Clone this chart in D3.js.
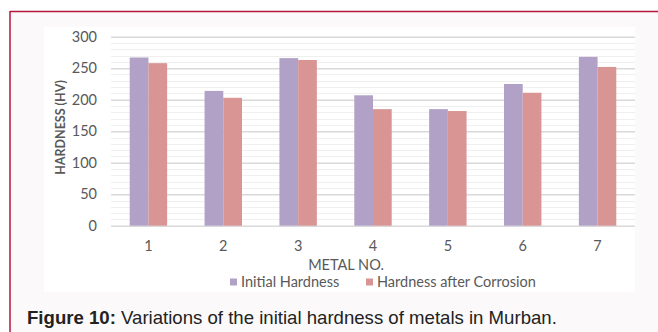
<!DOCTYPE html>
<html>
<head>
<meta charset="utf-8">
<script src="https://cdn.jsdelivr.net/npm/d3@7/dist/d3.min.js"></script>
<style>
  html, body { margin: 0; padding: 0; background: #ffffff; }
  svg { display: block; }
</style>
</head>
<body>
<script>
// Hardness of seven metals before and after corrosion
const metals = ["1", "2", "3", "4", "5", "6", "7"];
const initialHardness = [267, 214, 266, 207, 185, 225, 268];
const afterCorrosion = [258, 203, 263, 185, 182, 211, 252];
const seriesNames = ["Initial Hardness", "Hardness after Corrosion"];
const seriesColors = ["#b1a1c7", "#d99594"];
const yTicks = [0, 50, 100, 150, 200, 250, 300];

const W = 658, H = 332;
const uiFont = "Lato, 'Liberation Sans', sans-serif";
const textGray = "#595959";

const svg = d3.select("body").append("svg")
  .attr("width", W).attr("height", H);

// figure frame
svg.append("rect").attr("x", 0).attr("y", 0).attr("width", W).attr("height", H).attr("fill", "#ffffff");
svg.append("rect").attr("x", 10).attr("y", 11).attr("width", W).attr("height", H)
  .attr("fill", "#fbf9f9");
svg.append("line").attr("x1", 10).attr("x2", W).attr("y1", 11.5).attr("y2", 11.5)
  .attr("stroke", "#b3173c").attr("stroke-width", 1.5);
svg.append("line").attr("x1", 10).attr("x2", 10).attr("y1", 11).attr("y2", H)
  .attr("stroke", "#b3173c").attr("stroke-width", 1.5);

// chart area
svg.append("rect").attr("x", 44).attr("y", 27).attr("width", 591).attr("height", 265)
  .attr("fill", "#ffffff");

const plot = { left: 111, right: 635, top: 36.7, bottom: 225.7 };

const x = d3.scaleBand().domain(metals).range([plot.left, plot.right]).paddingInner(0.5).paddingOuter(0.25);
const xs = d3.scaleBand().domain(seriesNames).range([0, x.bandwidth()]);
const y = d3.scaleLinear().domain([0, 300]).range([plot.bottom, plot.top]);

// minor gridlines every 10
const minor = d3.range(0, 301, 10).filter(v => v % 50 !== 0);
svg.append("g").selectAll("line").data(minor).join("line")
  .attr("x1", plot.left).attr("x2", plot.right)
  .attr("y1", d => Math.round(y(d)) + 0.5).attr("y2", d => Math.round(y(d)) + 0.5)
  .attr("stroke", "#efefef").attr("stroke-width", 1);

// major gridlines and y tick labels via axis
const yAxis = d3.axisLeft(y).tickValues(yTicks).tickSize(-(plot.right - plot.left)).tickPadding(14);
const gy = svg.append("g").attr("transform", `translate(${plot.left},0)`).call(yAxis);
gy.select(".domain").remove();
gy.selectAll(".tick line").attr("stroke", "#d9d9d9").attr("stroke-width", 1.5);
gy.selectAll(".tick text").attr("fill", textGray).attr("font-family", uiFont).attr("font-size", 14.5);

// bars
const series = [initialHardness, afterCorrosion];
series.forEach((vals, si) => {
  svg.append("g").selectAll("rect").data(vals).join("rect")
    .attr("x", (d, i) => x(metals[i]) + xs(seriesNames[si]))
    .attr("width", xs.bandwidth())
    .attr("y", d => y(d))
    .attr("height", d => y(0) - y(d))
    .attr("fill", seriesColors[si]);
});

// x axis labels
const xAxis = d3.axisBottom(x).tickSize(0).tickPadding(15);
const gx = svg.append("g").attr("transform", `translate(0,${plot.bottom})`).call(xAxis);
gx.select(".domain").remove();
gx.selectAll(".tick text").attr("fill", textGray).attr("font-family", uiFont).attr("font-size", 14.5);

// axis titles
svg.append("text").attr("x", 346).attr("y", 270)
  .attr("text-anchor", "middle").attr("fill", textGray)
  .attr("font-family", uiFont).attr("font-size", 14.5).text("METAL NO.");
svg.append("text").attr("transform", "translate(64.5,127.5) rotate(-90)")
  .attr("text-anchor", "middle").attr("fill", textGray)
  .attr("font-family", uiFont).attr("font-size", 12.5).attr("font-weight", "bold")
  .text("HARDNESS (HV)");

// legend
const legendItems = [{ x: 230, name: seriesNames[0], c: seriesColors[0] },
                     { x: 366, name: seriesNames[1], c: seriesColors[1] }];
const lg = svg.append("g").selectAll("g").data(legendItems).join("g")
  .attr("transform", d => `translate(${d.x},0)`);
lg.append("rect").attr("x", 0).attr("y", 278.5).attr("width", 7).attr("height", 7).attr("fill", d => d.c);
lg.append("text").attr("x", 11).attr("y", 287)
  .attr("fill", textGray).attr("font-family", uiFont).attr("font-size", 14.5)
  .text(d => d.name);

// caption
const cap = svg.append("text").attr("x", 27).attr("y", 323.5)
  .attr("font-family", "Arial, 'Liberation Sans', sans-serif").attr("font-size", 18.6).attr("fill", "#222222");
cap.append("tspan").attr("font-weight", "bold").text("Figure 10:");
cap.append("tspan").text(" Variations of the initial hardness of metals in Murban.");
</script>
</body>
</html>
